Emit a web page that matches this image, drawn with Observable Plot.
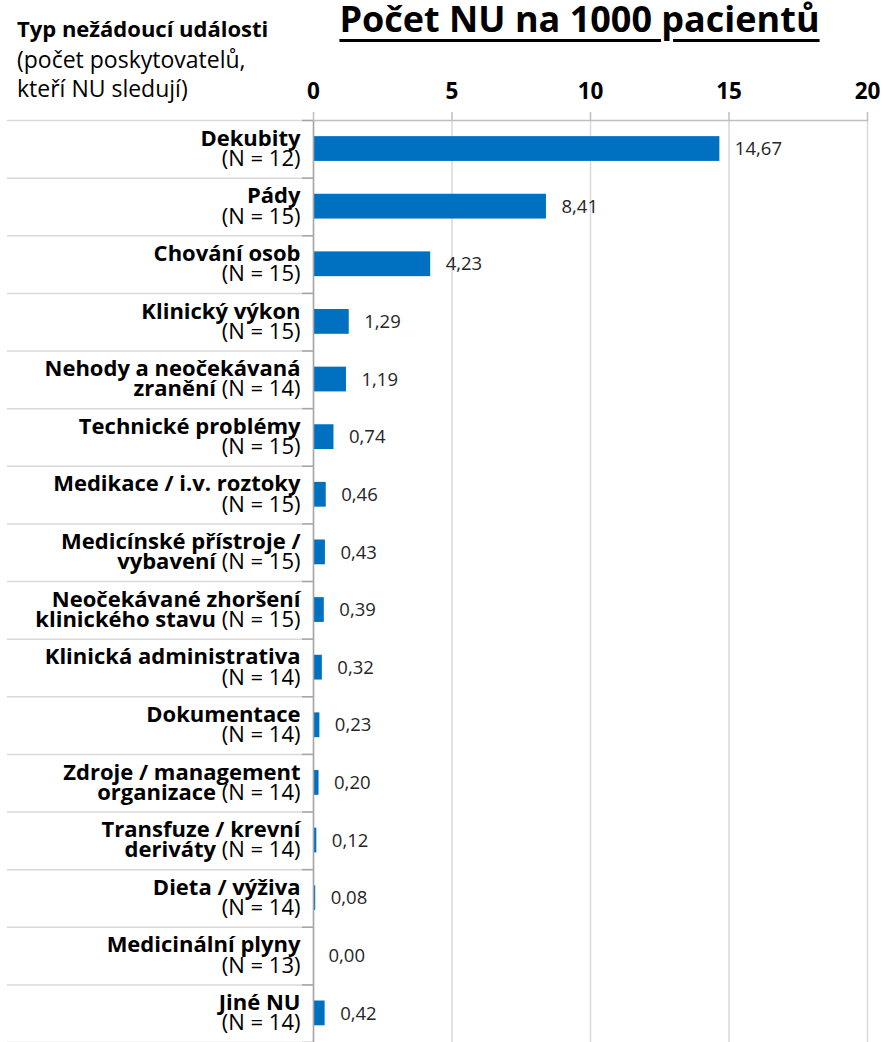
<!DOCTYPE html>
<html>
<head>
<meta charset="utf-8">
<script src="https://cdn.jsdelivr.net/npm/d3@7"></script>
<script src="https://cdn.jsdelivr.net/npm/@observablehq/plot@0.6"></script>
<style>
  body { margin: 0; background: #fff; font-family: "Open Sans", Lato, sans-serif; }
  #wrap { position: relative; width: 887px; height: 1042px; overflow: hidden; }
  #chart { position: absolute; left: 0; top: 0; }
  .hd { position: absolute; color: #000; white-space: nowrap; }
  #title { left: 300px; width: 559px; top: 0px; text-align: center; font-size: 36px; line-height: 38px; font-weight: 700;
           text-decoration: underline; text-decoration-thickness: 3px; text-underline-offset: 7px; }
  #h1 { left: 17px; top: 12px; font-size: 22px; line-height: 32px; font-weight: 700; }
  #h2 { left: 17px; top: 45px; font-size: 23px; line-height: 29px; font-weight: 400; }
</style>
</head>
<body>
<div id="wrap">
  <div id="chart"></div>
  <div class="hd" id="title">Počet NU na 1000 pacientů</div>
  <div class="hd" id="h1">Typ nežádoucí události</div>
  <div class="hd" id="h2">(počet poskytovatelů,<br>kteří NU sledují)</div>
</div>
<script>
// ---- data ----
const categories = ["Dekubity", "Pády", "Chování osob", "Klinický výkon", "Nehody a neočekávaná",
  "Technické problémy", "Medikace / i.v. roztoky", "Medicínské přístroje /", "Neočekávané zhoršení",
  "Klinická administrativa", "Dokumentace", "Zdroje / management", "Transfuze / krevní",
  "Dieta / výživa", "Medicinální plyny", "Jiné NU"];
const categoriesLine2 = ["", "", "", "", "zranění", "", "", "vybavení", "klinického stavu",
  "", "", "organizace", "deriváty", "", "", ""];
const providers = [12, 15, 15, 15, 14, 15, 15, 15, 15, 14, 14, 14, 14, 14, 13, 14];
const values = [14.67, 8.41, 4.23, 1.29, 1.19, 0.74, 0.46, 0.43, 0.39, 0.32, 0.23, 0.20, 0.12, 0.08, 0.00, 0.42];
const xTicks = [0, 5, 10, 15, 20];

const data = categories.map((c, i) => ({
  i, c, c2: categoriesLine2[i], n: providers[i], v: values[i]
}));
const rows = d3.range(categories.length + 1);
const fmt = v => v.toFixed(2).replace(".", ",");

const chart = Plot.plot({
  width: 887,
  height: 1042,
  marginLeft: 313,
  marginRight: 20,
  marginTop: 120,
  marginBottom: 0,
  style: { fontFamily: "'Open Sans', Lato, sans-serif", background: "white", overflow: "visible" },
  x: { domain: [0, 20] },
  y: { domain: [0, categories.length], reverse: true },
  marks: [
    Plot.ruleX(xTicks, { stroke: "#d9d9d9", strokeWidth: 1.5 }),
    // row separators across the label area
    Plot.axisY({ ticks: rows, tickSize: 306, tickFormat: () => "", stroke: "#d9d9d9", strokeWidth: 1.5, label: null }),
    Plot.axisY({ ticks: rows, tickSize: 11, tickFormat: () => "", stroke: "#a6a6a6", strokeWidth: 1.5, label: null }),
    Plot.rect(data, { x1: 0, x2: "v", y1: d => d.i + 0.28, y2: d => d.i + 0.71, fill: "#0070C0" }),
    Plot.ruleY([0], { stroke: "#bfbfbf", strokeWidth: 1.5 }),
    Plot.ruleX([0], { stroke: "#a6a6a6", strokeWidth: 1.5 }),
    Plot.axisX({ anchor: "top", ticks: xTicks, tickSize: 9, tickPadding: 13, stroke: "#bfbfbf", strokeWidth: 1.5,
      fontSize: 22.5, fontWeight: "bold", fill: "#000", label: null }),
    Plot.text(data, { x: "v", y: d => d.i + 0.5, text: d => fmt(d.v), dx: 15, textAnchor: "start",
      fontSize: 18.5, fill: "#262626" }),
    Plot.text(data, { y: d => d.i + 0.5, frameAnchor: "left", dx: -13, textAnchor: "end",
      text: d => d.c + "\n" + (d.c2 ? d.c2 + " " : "") + "(N = " + d.n + ")",
      lineHeight: 0.92, fontSize: 22, fill: "#000" })
  ]
});
document.getElementById("chart").appendChild(chart);

// bold category names, regular provider counts (only the category labels are two-line texts)
const labelTexts = d3.select(chart).selectAll("text")
  .filter(function () { return this.querySelectorAll("tspan").length === 2; }).nodes();
labelTexts.forEach((node, k) => {
  const d = data[k];
  const ts = node.querySelectorAll("tspan");
  d3.select(ts[0]).attr("font-weight", "bold");
  const second = d3.select(ts[1]);
  second.text(null);
  if (d.c2) second.append("tspan").attr("font-weight", "bold").text(d.c2 + " ");
  second.append("tspan").attr("font-weight", "normal").text("(N = " + d.n + ")");
});
</script>
</body>
</html>
